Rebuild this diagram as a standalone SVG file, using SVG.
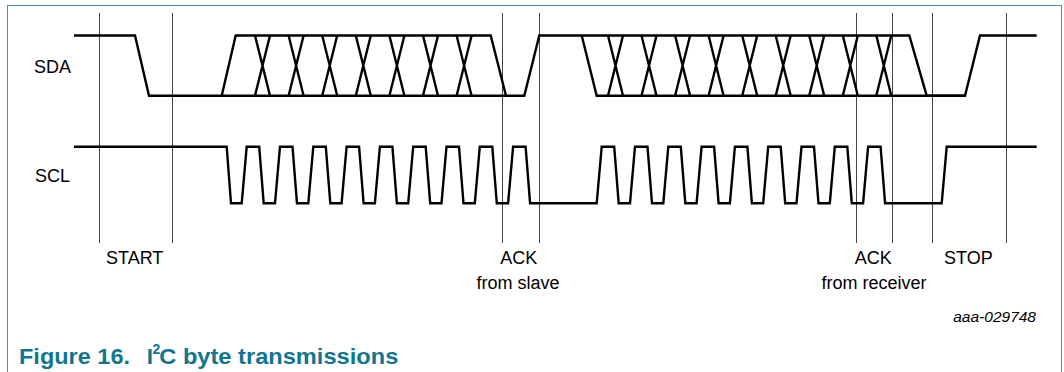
<svg xmlns="http://www.w3.org/2000/svg" width="1064" height="372" viewBox="0 0 1064 372">
<style>
.wave{fill:none;stroke:#000;stroke-width:2.4;stroke-linejoin:miter;stroke-linecap:butt}
.mk{stroke:#444;stroke-width:1}
.lbl{font-family:"Liberation Sans",Arial,sans-serif;font-size:18px;fill:#000}
.mid{text-anchor:middle}
.ref{font-family:"Liberation Sans",Arial,sans-serif;font-size:15.5px;font-style:italic;fill:#000;text-anchor:end}
.cap{font-family:"Liberation Sans",Arial,sans-serif;font-weight:bold;fill:#11758f}
</style>
<rect id="frame" x="7.5" y="5.5" width="1054" height="420" fill="#fff" stroke="#4a90a6" stroke-width="1"/>
<g id="markers">
<line class="mk" x1="99.5" y1="13" x2="99.5" y2="243"/>
<line class="mk" x1="172.5" y1="13" x2="172.5" y2="243"/>
<line class="mk" x1="502.5" y1="13" x2="502.5" y2="243"/>
<line class="mk" x1="539.5" y1="13" x2="539.5" y2="243"/>
<line class="mk" x1="856.5" y1="13" x2="856.5" y2="243"/>
<line class="mk" x1="892.5" y1="13" x2="892.5" y2="243"/>
<line class="mk" x1="932.5" y1="13" x2="932.5" y2="243"/>
<line class="mk" x1="1006.5" y1="13" x2="1006.5" y2="243"/>
</g>
<g id="sda">
<path class="wave" d="M74 35.5 H135 L149 95.7 H524.3 L539.3 35.5 H909.3 L926.7 95.7 H965 L980 35.5 H1036.7"/>
<path class="wave" d="M221.7 95.7 L235.7 35.5 H490.7 L506 95.7"/>
<path class="wave" d="M581.7 35.5 L596.7 95.7 H965"/>
<path class="wave" d="M255 35.5 L270 95.7 M255 95.7 L270 35.5 M288.6 35.5 L303.6 95.7 M288.6 95.7 L303.6 35.5 M322.2 35.5 L337.2 95.7 M322.2 95.7 L337.2 35.5 M355.8 35.5 L370.8 95.7 M355.8 95.7 L370.8 35.5 M389.4 35.5 L404.4 95.7 M389.4 95.7 L404.4 35.5 M423 35.5 L438 95.7 M423 95.7 L438 35.5 M456.6 35.5 L471.6 95.7 M456.6 95.7 L471.6 35.5"/>
<path class="wave" d="M608 35.5 L623 95.7 M608 95.7 L623 35.5 M641.5 35.5 L656.5 95.7 M641.5 95.7 L656.5 35.5 M675.1 35.5 L690.1 95.7 M675.1 95.7 L690.1 35.5 M708.6 35.5 L723.6 95.7 M708.6 95.7 L723.6 35.5 M742.2 35.5 L757.2 95.7 M742.2 95.7 L757.2 35.5 M775.7 35.5 L790.7 95.7 M775.7 95.7 L790.7 35.5 M809.2 35.5 L824.2 95.7 M809.2 95.7 L824.2 35.5 M842.8 35.5 L857.8 95.7 M842.8 95.7 L857.8 35.5 M876.3 35.5 L891.3 95.7 M876.3 95.7 L891.3 35.5"/>
<text class="lbl" x="34" y="73.3">SDA</text>
</g>
<g id="scl">
<path class="wave" d="M74 146.7 H226.7 L231 203.3 H241.7
L246.7 146.7 H259.2 L263.7 203.3 H275
L280 146.7 H292.5 L297 203.3 H308.3
L313.3 146.7 H325.8 L330.3 203.3 H341.6
L346.6 146.7 H359.1 L363.6 203.3 H374.9
L379.9 146.7 H392.4 L396.9 203.3 H408.2
L413.2 146.7 H425.7 L430.2 203.3 H441.5
L446.5 146.7 H459 L463.5 203.3 H474.8
L479.8 146.7 H492.3 L496.8 203.3 H508.1
L513.1 146.7 H525.6 L530.1 203.3 H596.7
L601.7 146.7 H614.2 L618.7 203.3 H630
L635 146.7 H647.5 L652 203.3 H663.3
L668.3 146.7 H680.8 L685.3 203.3 H696.6
L701.6 146.7 H714.1 L718.6 203.3 H729.9
L734.9 146.7 H747.4 L751.9 203.3 H763.2
L768.2 146.7 H780.7 L785.2 203.3 H796.5
L801.5 146.7 H814 L818.5 203.3 H829.8
L834.8 146.7 H847.3 L851.8 203.3 H863.1
L868.1 146.7 H880.6 L885.1 203.3 H941.7 L946.7 146.7 H1036.7"/>
<text class="lbl" x="35" y="181.7">SCL</text>
</g>
<g id="labels">
<text class="lbl" x="106" y="264">START</text>
<text class="lbl mid" x="518.7" y="264">ACK</text>
<text class="lbl mid" x="518" y="288.5">from slave</text>
<text class="lbl mid" x="873.3" y="264">ACK</text>
<text class="lbl mid" x="874" y="288.5">from receiver</text>
<text class="lbl mid" x="968.3" y="264">STOP</text>
<text class="ref" x="1036" y="321.7">aaa-029748</text>
</g>
<g id="caption">
<text class="cap" x="19" y="364" font-size="22.5" textLength="111" lengthAdjust="spacingAndGlyphs">Figure 16.</text>
<text class="cap" x="146.7" y="364" font-size="22.5">I</text>
<text class="cap" x="152.5" y="353.5" font-size="14">2</text>
<text class="cap" x="159.3" y="364" font-size="22.5" textLength="239" lengthAdjust="spacingAndGlyphs">C byte transmissions</text>
</g>
</svg>
